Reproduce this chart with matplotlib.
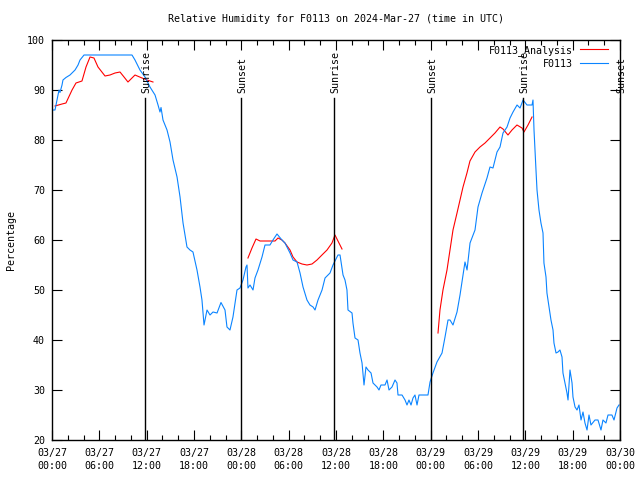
import matplotlib
matplotlib.use("Agg")
import matplotlib.pyplot as plt
from matplotlib.ticker import MultipleLocator

# hours since 2024-03-27 00:00 UTC
obs_hours = [0.00, 0.38, 0.63, 0.89, 1.01, 1.27, 1.39, 1.77, 2.28, 2.92, 3.30, 3.55, 4.06, 6.08, 7.35, 8.62,
             10.14, 10.52, 11.15, 11.79, 12.42, 13.06, 13.44, 13.69, 13.82, 14.07, 14.58, 14.96, 15.34, 15.85,
             16.23, 16.61, 17.11, 17.49, 17.87, 18.38, 18.76, 19.01, 19.27, 19.65, 20.03, 20.41, 20.92, 21.42,
             21.93, 22.18, 22.56, 22.94, 23.45, 23.83, 24.21, 24.59, 24.72, 24.84, 25.10, 25.48, 25.73, 26.11,
             26.62, 27.00, 27.63, 28.01, 28.52, 29.15, 29.53, 30.17, 30.55, 31.06, 31.44, 31.82, 32.32, 32.70,
             33.09, 33.34, 33.72, 34.23, 34.61, 35.24, 35.62, 36.25, 36.51, 36.89, 37.14, 37.39, 37.52, 38.03,
             38.15, 38.41, 38.79, 39.04, 39.30, 39.42, 39.55, 39.80, 40.06, 40.44, 40.69, 41.20, 41.45, 41.70,
             42.21, 42.47, 42.72, 43.10, 43.48, 43.73, 43.86, 44.37, 44.75, 45.00, 45.25, 45.51, 45.76, 46.01,
             46.27, 46.52, 47.66, 47.92, 48.29, 48.80, 49.44, 49.82, 50.20, 50.45, 50.83, 51.34, 51.72, 52.10,
             52.35, 52.61, 52.99, 53.62, 54.00, 54.51, 55.14, 55.52, 55.90, 56.41, 56.79, 57.17, 57.68, 58.06,
             58.44, 58.95, 59.33, 59.71, 60.21, 60.85, 60.97, 61.10, 61.22, 61.35, 61.48, 61.73, 61.98, 62.24,
             62.36, 62.62, 62.74, 63.00, 63.25, 63.51, 63.63, 63.89, 64.14, 64.39, 64.65, 64.77, 65.03, 65.28,
             65.41, 65.66, 65.92, 66.04, 66.30, 66.55, 66.80, 67.06, 67.31, 67.56, 67.82, 68.07, 68.32, 68.83,
             69.21, 69.59, 69.84, 70.22, 70.48, 70.98, 71.24, 71.62, 71.87]
obs_rh = [86, 86, 88, 90, 89.5, 91, 92, 92.5, 93, 94, 95, 96, 97, 97, 97, 97,
          97, 96, 94, 92.6, 90.6, 89, 87, 85.6, 86.5, 84, 82, 79.6, 76, 72.6,
          68.6, 63.4, 58.6, 58, 57.6, 54, 50.6, 48, 43, 46, 45, 45.6, 45.4, 47.5,
          46, 42.6, 42, 44.6, 50, 50.4, 52, 54.6, 55, 50.4, 51, 50, 52.4, 54,
          56.6, 59, 59, 60, 61.2, 60, 59.4, 57.4, 56, 55.6, 53.4, 50.6, 48, 47,
          46.6, 46, 48, 50, 52.4, 53.4, 55, 57, 57, 53, 52, 50, 46, 45.4,
          43.4, 40.4, 40, 37.4, 35.4, 33.4, 31, 34.6, 34, 33.4, 31.4, 30.6, 30, 31,
          31, 32, 30, 30.6, 32, 31.4, 29, 29, 28, 27, 28, 27, 28.4, 29,
          27, 29, 29, 31.6, 33.4, 35.6, 37.4, 40.6, 44, 44, 43, 45.6, 49, 53,
          55.6, 54, 59.4, 62, 66.6, 69.4, 72.4, 74.6, 74.4, 77.6, 78.6, 81.4, 82.6, 84.4,
          85.6, 87, 86.4, 88, 87, 87, 88, 82, 78, 74, 70, 66, 63.4, 61.4,
          55.4, 52.6, 49.4, 46.6, 44, 42, 39.4, 37.4, 37.6, 38, 36.6, 33.4, 31.4, 29.4,
          28, 34, 31.4, 28.6, 26.6, 26, 27, 24, 25.6, 23.4, 22, 25, 23, 24,
          24, 22, 24, 23.4, 25, 25, 24, 26.4, 27]

# analysis segments (three separate runs)
ana1_hours = [0.38, 1.27, 1.77, 2.54, 3.04, 3.80, 4.31, 4.82, 5.32, 5.83, 6.72, 7.35, 7.99, 8.62, 9.13, 9.63,
              10.52, 11.41, 12.04, 12.80]
ana1_rh = [86.8, 87.2, 87.4, 90, 91.4, 91.8, 94.6, 96.6, 96.4, 94.6, 92.8, 93, 93.4, 93.6, 92.6, 91.6,
           93, 92.4, 92, 91.6]
ana2_hours = [24.84, 25.35, 25.86, 26.37, 27.00, 28.27, 28.65, 29.15, 29.53, 30.17, 30.55, 31.06, 31.69,
              32.32, 32.96, 33.59, 34.22, 34.86, 35.49, 35.87, 36.25, 36.76]
ana2_rh = [56.4, 58.4, 60.2, 59.8, 59.8, 59.8, 60.4, 60, 59.4, 58, 56.6, 55.6, 55.2,
           55, 55.2, 56, 57, 58, 59.4, 61, 59.8, 58.2]
ana3_hours = [48.93, 49.18, 49.56, 50.07, 50.45, 50.83, 51.34, 51.72, 52.10, 52.60, 52.98, 53.62, 54.25,
              54.89, 55.52, 56.15, 56.79, 57.17, 57.80, 58.31, 58.94, 59.58, 59.83, 60.34, 60.85]
ana3_rh = [41.4, 46, 50, 54, 58, 62, 65.4, 68, 70.6, 73.4, 75.8, 77.6, 78.6,
           79.4, 80.4, 81.4, 82.6, 82.2, 81, 82, 83, 82.4, 81.6, 83, 84.6]

sun_hours = [11.79, 23.96, 35.75, 48.04, 59.71, 72.0]
sun_labels = ["Sunrise", "Sunset", "Sunrise", "Sunset", "Sunrise", "Sunset"]

xtick_hours = list(range(0, 73, 6))
xtick_labels = ["03/27\n00:00", "03/27\n06:00", "03/27\n12:00", "03/27\n18:00",
                "03/28\n00:00", "03/28\n06:00", "03/28\n12:00", "03/28\n18:00",
                "03/29\n00:00", "03/29\n06:00", "03/29\n12:00", "03/29\n18:00",
                "03/30\n00:00"]

FONT = "DejaVu Sans Mono"
FS = 7.2
RED = "#ff0000"
BLUE = "#0a84ff"
LW = 0.8

plt.rcParams["font.family"] = FONT
fig = plt.figure(figsize=(6.4, 4.8), dpi=100)
ax = fig.add_axes([52 / 640, 40 / 480, 568 / 640, 400 / 480])

l_ana, = ax.plot(ana1_hours, ana1_rh, color=RED, lw=LW, label="F0113_Analysis")
ax.plot(ana2_hours, ana2_rh, color=RED, lw=LW)
ax.plot(ana3_hours, ana3_rh, color=RED, lw=LW)
l_obs, = ax.plot(obs_hours, obs_rh, color=BLUE, lw=LW, label="F0113")

ax.set_xlim(0, 72)
ax.set_ylim(20, 100)

for h, lab in zip(sun_hours, sun_labels):
    ax.plot([h, h], [20, 88.4], color="black", lw=1.0)
    ax.text(h + 0.15, 89.4, lab, rotation=90, ha="center", va="bottom",
            fontsize=FS, family=FONT)

ax.set_xticks(xtick_hours)
ax.set_xticklabels(xtick_labels, fontsize=FS, linespacing=1.35)
ax.xaxis.set_minor_locator(MultipleLocator(2))
ax.set_yticks(range(20, 101, 10))
ax.set_yticklabels([str(v) for v in range(20, 101, 10)], fontsize=FS)

ax.tick_params(axis="x", which="major", direction="in", length=7, width=0.8,
               top=True, bottom=True, pad=6)
ax.tick_params(axis="x", which="minor", direction="in", length=3.5, width=0.8,
               top=True, bottom=True)
ax.tick_params(axis="y", which="major", direction="in", length=7, width=0.8,
               left=True, right=True, pad=5)
for s in ax.spines.values():
    s.set_linewidth(1.0)

fig.text(336 / 640, 1 - 19 / 480, "Relative Humidity for F0113 on 2024-Mar-27 (time in UTC)",
         ha="center", va="center", fontsize=FS, family=FONT)
fig.text(11 / 640, 240 / 480, "Percentage", rotation=90, ha="center", va="center",
         fontsize=FS, family=FONT)

ax.legend(handles=[l_ana, l_obs], loc="upper right", bbox_to_anchor=(1 - 9 / 568, 1 - 2 / 400),
          markerfirst=False, frameon=False, fontsize=FS, handlelength=2.8,
          handletextpad=0.7, labelspacing=0.3, borderaxespad=0.0, borderpad=0.3)

fig.savefig("out.png", dpi=100)
